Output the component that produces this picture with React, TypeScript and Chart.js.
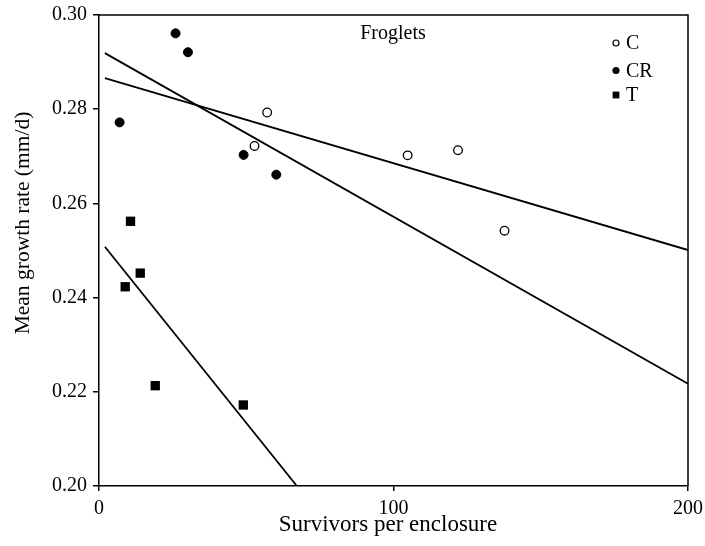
import React, { useEffect, useRef } from "react";
import { Chart, registerables } from "chart.js";

Chart.register(...registerables);

// ---- data ----
const panelTitle = "Froglets";
const xAxisTitle = "Survivors per enclosure";
const yAxisTitle = "Mean growth rate (mm/d)";

const xTickValues = [0, 100, 200];
const yTickValues = [0.2, 0.22, 0.24, 0.26, 0.28, 0.3];

const seriesLabels = ["C", "CR", "T"];

const cX = [57.1, 52.8, 104.8, 121.9, 137.7];
const cY = [0.2793, 0.2722, 0.2702, 0.2713, 0.2542];

const crX = [26.0, 30.2, 7.0, 49.1, 60.2];
const crY = [0.2961, 0.2921, 0.2772, 0.2703, 0.2661];

const tX = [10.7, 14.0, 8.9, 19.1, 49.0];
const tY = [0.2562, 0.2452, 0.2423, 0.2213, 0.2172];

// fitted regression lines (end points)
const fitCX = [2, 200];
const fitCY = [0.2866, 0.2501];
const fitCRX = [2, 200];
const fitCRY = [0.2919, 0.2217];
const fitTX = [2, 67.2];
const fitTY = [0.2508, 0.2];

const FONT = "'Liberation Serif', 'Times New Roman', Times, serif";

function toPts(xs: number[], ys: number[]) {
  return xs.map((x, i) => ({ x, y: ys[i] }));
}

export default function App() {
  const ref = useRef<HTMLCanvasElement>(null);

  useEffect(() => {
    if (!ref.current) return;

    const framePlugin = {
      id: "frameAndLegend",
      afterDraw(chart: any) {
        const { ctx, chartArea: a } = chart;
        ctx.save();
        // top and right frame
        ctx.strokeStyle = "#000";
        ctx.lineWidth = 1.5;
        ctx.beginPath();
        ctx.moveTo(a.left, a.top);
        ctx.lineTo(a.right, a.top);
        ctx.lineTo(a.right, a.bottom);
        ctx.stroke();

        ctx.fillStyle = "#000";

        // axis titles
        ctx.font = `23px ${FONT}`;
        ctx.textAlign = "center";
        ctx.textBaseline = "alphabetic";
        ctx.fillText(xAxisTitle, a.left + 289, a.bottom + 45);

        ctx.save();
        ctx.font = `21.5px ${FONT}`;
        ctx.translate(28.5, a.top + 208);
        ctx.rotate(-Math.PI / 2);
        ctx.textAlign = "center";
        ctx.textBaseline = "alphabetic";
        ctx.fillText(yAxisTitle, 0, 0);
        ctx.restore();

        // panel title
        ctx.font = `20px ${FONT}`;
        ctx.textAlign = "center";
        ctx.textBaseline = "alphabetic";
        ctx.fillText(panelTitle, a.left + 294, a.top + 23.5);

        // legend
        const mx = a.right - 72;
        const tx = a.right - 62;
        const rows = [a.top + 28, a.top + 55.5, a.top + 80];
        ctx.font = `20px ${FONT}`;
        ctx.textAlign = "left";
        ctx.textBaseline = "middle";
        seriesLabels.forEach((lab, i) => {
          const y = rows[i];
          ctx.beginPath();
          if (i === 0) {
            ctx.arc(mx, y, 3, 0, Math.PI * 2);
            ctx.fillStyle = "#fff";
            ctx.fill();
            ctx.lineWidth = 1.2;
            ctx.strokeStyle = "#000";
            ctx.stroke();
          } else if (i === 1) {
            ctx.arc(mx, y, 3.6, 0, Math.PI * 2);
            ctx.fillStyle = "#000";
            ctx.fill();
          } else {
            ctx.fillStyle = "#000";
            ctx.fillRect(mx - 3.4, y - 3.4, 6.8, 6.8);
          }
          ctx.fillStyle = "#000";
          ctx.fillText(lab, tx, y + 1);
        });
        ctx.restore();
      },
    };

    const lineStyle = {
      showLine: true,
      pointRadius: 0,
      borderColor: "#000",
      backgroundColor: "transparent",
      borderWidth: 1.8,
      order: 2,
    };

    const chart = new Chart(ref.current, {
      type: "scatter",
      data: {
        datasets: [
          {
            label: seriesLabels[0],
            data: toPts(cX, cY),
            pointStyle: "circle",
            pointRadius: 4.3,
            backgroundColor: "#fff",
            borderColor: "#000",
            borderWidth: 1.3,
            order: 1,
          },
          {
            label: seriesLabels[1],
            data: toPts(crX, crY),
            pointStyle: "circle",
            pointRadius: 4.5,
            backgroundColor: "#000",
            borderColor: "#000",
            borderWidth: 1,
            order: 1,
          },
          {
            label: seriesLabels[2],
            data: toPts(tX, tY),
            pointStyle: "rect",
            pointRadius: 6.6,
            backgroundColor: "#000",
            borderColor: "#000",
            borderWidth: 0,
            order: 1,
          },
          { label: "fit C", data: toPts(fitCX, fitCY), ...lineStyle },
          { label: "fit CR", data: toPts(fitCRX, fitCRY), ...lineStyle },
          { label: "fit T", data: toPts(fitTX, fitTY), ...lineStyle },
        ] as any,
      },
      options: {
        animation: false,
        responsive: false,
        events: [],
        layout: { padding: { top: 15, right: 17, left: 0, bottom: 0 } },
        plugins: {
          legend: { display: false },
          tooltip: { enabled: false },
          title: { display: false },
        },
        scales: {
          x: {
            type: "linear",
            min: 0,
            max: 200,
            afterBuildTicks: (s: any) => {
              s.ticks = xTickValues.map((v) => ({ value: v }));
            },
            afterFit: (s: any) => {
              s.height = 60;
              s.paddingLeft = 0;
              s.paddingRight = 0;
            },
            ticks: {
              color: "#000",
              font: { family: FONT, size: 20 },
              padding: 6,
              maxRotation: 0,
              callback: (v: any) => String(v),
            },
            grid: {
              drawOnChartArea: false,
              drawTicks: true,
              tickLength: 5,
              color: "#000",
              lineWidth: 1.5,
            },
            border: { display: true, color: "#000", width: 1.5 },
            title: { display: false },
          },
          y: {
            type: "linear",
            min: 0.2,
            max: 0.3,
            afterBuildTicks: (s: any) => {
              s.ticks = yTickValues.map((v) => ({ value: v }));
            },
            afterFit: (s: any) => {
              s.width = 99;
              s.paddingTop = 0;
              s.paddingBottom = 0;
            },
            ticks: {
              color: "#000",
              font: { family: FONT, size: 20 },
              padding: 6,
              callback: (v: any) => Number(v).toFixed(2),
            },
            grid: {
              drawOnChartArea: false,
              drawTicks: true,
              tickLength: 6,
              color: "#000",
              lineWidth: 1.5,
            },
            border: { display: true, color: "#000", width: 1.5 },
            title: { display: false },
          },
        },
      } as any,
      plugins: [framePlugin],
    });

    return () => chart.destroy();
  }, []);

  return (
    <div style={{ position: "absolute", left: 0, top: 0, width: 705, height: 546, background: "#fff" }}>
      <canvas ref={ref} width={705} height={546} style={{ width: 705, height: 546, display: "block" }} />
    </div>
  );
}
